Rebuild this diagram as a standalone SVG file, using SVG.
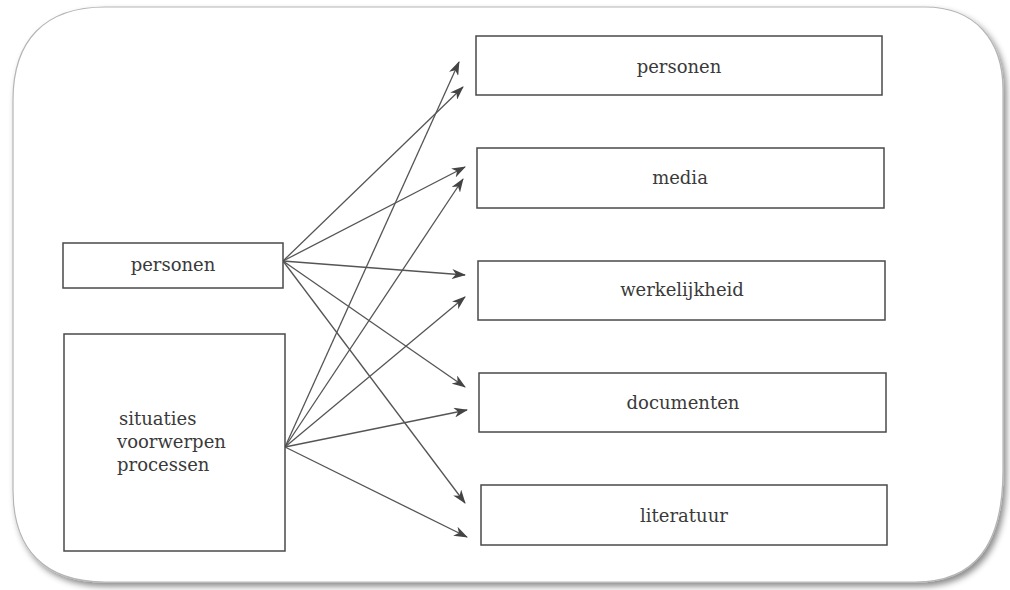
<svg xmlns="http://www.w3.org/2000/svg" width="1010" height="590" viewBox="0 0 1010 590">
  <defs>
    <filter id="frameShadow" x="-5%" y="-5%" width="110%" height="112%">
      <feDropShadow dx="3" dy="4" stdDeviation="3" flood-color="#000" flood-opacity="0.45"/>
    </filter>
    <marker id="arrow" viewBox="0 0 14 10" refX="13" refY="5" markerWidth="14" markerHeight="10" markerUnits="userSpaceOnUse" orient="auto">
      <path d="M0,0 L14,5 L0,10 L4,5 Z" fill="#444"/>
    </marker>
    <style>
      .box { fill: #fff; stroke: #4a4a4a; stroke-width: 1.5; }
      .label { font-family: "DejaVu Serif", "Liberation Serif", serif; font-size: 18px; fill: #3a3a3a; }
      .mid { text-anchor: middle; }
      .conn line { stroke: #555; stroke-width: 1.3; marker-end: url(#arrow); }
    </style>
  </defs>

  <rect width="1010" height="590" fill="#fff"/>

  <!-- rounded outer frame -->
  <path id="frame" d="M105,7 H925 C975,7 1003,40 1003,90 V470 C1003,545 975,582 915,582 H105 C45,582 13,550 13,490 V100 C13,40 45,7 105,7 Z"
        fill="#fff" stroke="#b5b5b5" stroke-width="1.2" filter="url(#frameShadow)"/>

  <!-- connectors -->
  <g id="connectors" class="conn">
    <line x1="283" y1="261" x2="463" y2="87"/>
    <line x1="283" y1="261" x2="465" y2="167"/>
    <line x1="283" y1="261" x2="465" y2="275"/>
    <line x1="283" y1="261" x2="465" y2="387"/>
    <line x1="283" y1="261" x2="465" y2="503"/>
    <line x1="285" y1="447" x2="459" y2="62"/>
    <line x1="285" y1="447" x2="463" y2="179"/>
    <line x1="285" y1="447" x2="465" y2="297"/>
    <line x1="285" y1="447" x2="467" y2="410"/>
    <line x1="285" y1="447" x2="467" y2="537"/>
  </g>

  <!-- source nodes -->
  <g id="src-personen">
    <rect class="box" x="63" y="243" width="220" height="45"/>
    <text class="label mid" x="173" y="271">personen</text>
  </g>
  <g id="src-situaties">
    <rect class="box" x="64" y="334" width="221" height="217"/>
    <text class="label" x="119" y="425">situaties</text>
    <text class="label" x="117" y="448">voorwerpen</text>
    <text class="label" x="117" y="471">processen</text>
  </g>

  <!-- target nodes -->
  <g id="dst-personen">
    <rect class="box" x="476" y="36" width="406" height="59"/>
    <text class="label mid" x="679" y="73">personen</text>
  </g>
  <g id="dst-media">
    <rect class="box" x="477" y="148" width="407" height="60"/>
    <text class="label mid" x="680" y="184">media</text>
  </g>
  <g id="dst-werkelijkheid">
    <rect class="box" x="478" y="261" width="407" height="59"/>
    <text class="label mid" x="682" y="296">werkelijkheid</text>
  </g>
  <g id="dst-documenten">
    <rect class="box" x="479" y="373" width="407" height="59"/>
    <text class="label mid" x="683" y="409">documenten</text>
  </g>
  <g id="dst-literatuur">
    <rect class="box" x="481" y="485" width="406" height="60"/>
    <text class="label mid" x="684" y="522">literatuur</text>
  </g>
</svg>
